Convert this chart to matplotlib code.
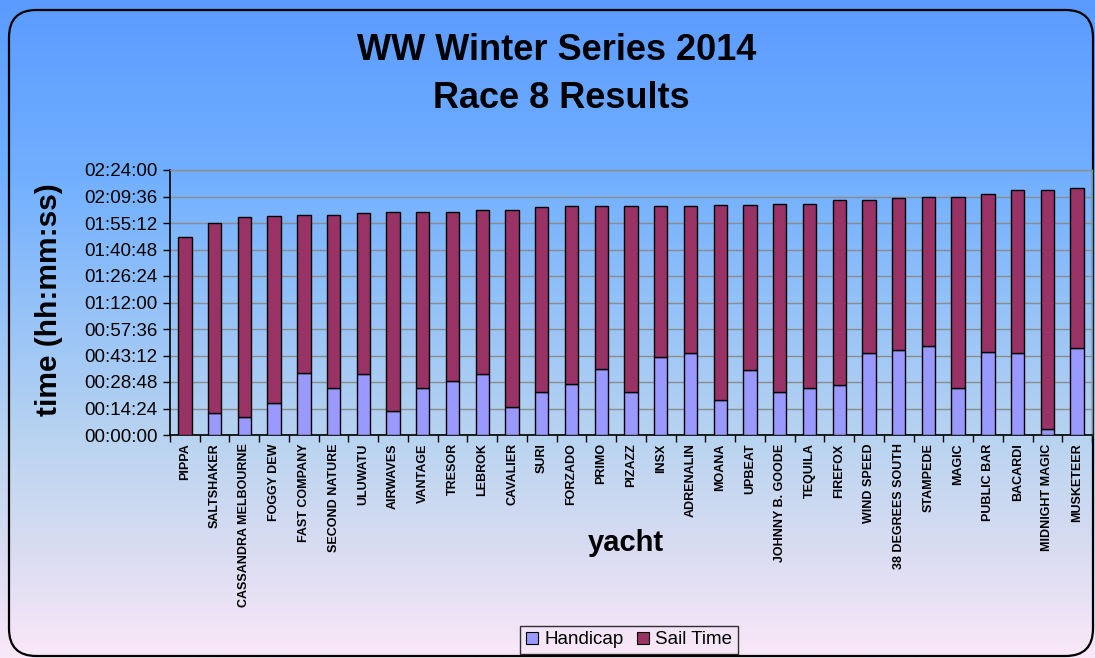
import numpy as np
import matplotlib
matplotlib.use("Agg")
import matplotlib.pyplot as plt
from matplotlib.patches import FancyBboxPatch, Patch
from matplotlib.colors import LinearSegmentedColormap
from matplotlib.ticker import FuncFormatter, MultipleLocator, FixedLocator

plt.rcParams['font.family'] = ['Liberation Sans', 'DejaVu Sans']

yachts = ["PIPPA", "SALTSHAKER", "CASSANDRA MELBOURNE", "FOGGY DEW", "FAST COMPANY",
          "SECOND NATURE", "ULUWATU", "AIRWAVES", "VANTAGE", "TRESOR", "LEBROK",
          "CAVALIER", "SURI", "FORZADO", "PRIMO", "PIZAZZ", "INSX", "ADRENALIN",
          "MOANA", "UPBEAT", "JOHNNY B. GOODE", "TEQUILA", "FIREFOX", "WIND SPEED",
          "38 DEGREES SOUTH", "STAMPEDE", "MAGIC", "PUBLIC BAR", "BACARDI",
          "MIDNIGHT MAGIC", "MUSKETEER"]

# Handicap and corrected total (elapsed) in h:mm:ss
handicap = ["0:00:00", "0:11:58", "0:09:58", "0:17:14", "0:33:44", "0:25:45", "0:33:00",
            "0:13:14", "0:25:45", "0:29:12", "0:33:00", "0:15:14", "0:23:13", "0:27:45",
            "0:35:43", "0:23:13", "0:42:26", "0:44:26", "0:19:13", "0:35:11", "0:23:13",
            "0:25:45", "0:27:01", "0:44:26", "0:46:25", "0:48:25", "0:25:45", "0:44:58",
            "0:44:26", "0:03:27", "0:47:09"]
total = ["1:47:43", "1:54:58", "1:58:14", "1:58:57", "1:59:41", "1:59:41", "2:00:24",
         "2:00:57", "2:00:57", "2:00:57", "2:02:13", "2:02:13", "2:03:40", "2:04:13",
         "2:04:13", "2:04:13", "2:04:13", "2:04:13", "2:04:56", "2:04:56", "2:05:40",
         "2:05:40", "2:07:40", "2:07:40", "2:08:56", "2:09:28", "2:09:28", "2:10:55",
         "2:12:55", "2:12:55", "2:14:11"]


def to_sec(s):
    h, m, sec = (int(p) for p in s.split(":"))
    return h * 3600 + m * 60 + sec


hcp = np.array([to_sec(s) for s in handicap], dtype=float)
sail = np.array([to_sec(s) for s in total], dtype=float) - hcp

W, H = 1095, 658
fig = plt.figure(figsize=(W / 100, H / 100), dpi=100)

# background gradient
bg = fig.add_axes([0, 0, 1, 1], zorder=-10)
bg.axis("off")
stops = [(0.0, (91/255, 155/255, 255/255)),
         (0.26, (112/255, 175/255, 255/255)),
         (0.67, (185/255, 212/255, 240/255)),
         (0.85, (220/255, 221/255, 242/255)),
         (1.0, (250/255, 232/255, 248/255))]
cmap = LinearSegmentedColormap.from_list("bg", stops)
grad = np.linspace(0, 1, 512).reshape(-1, 1)
bg.imshow(grad, aspect="auto", cmap=cmap, extent=[0, 1, 0, 1], origin="upper")
bg.set_xlim(0, 1)
bg.set_ylim(0, 1)

border = FancyBboxPatch((9 / W, 2 / H), (1093 - 9) / W, (652 - 6) / H,
                        boxstyle="round,pad=0,rounding_size=0.025",
                        transform=fig.transFigure, fill=False, edgecolor="black",
                        linewidth=1.6, zorder=5, mutation_aspect=W / H)
bg.add_patch(border)

ax = fig.add_axes([170 / W, 1 - 435 / H, (1092 - 170) / W, (435 - 170) / H])
ax.set_facecolor("none")
x = np.arange(len(yachts))
ax.bar(x, hcp, width=0.45, color="#9999FF", edgecolor="black", linewidth=1.0,
       label="Handicap", zorder=3)
ax.bar(x, sail, width=0.45, bottom=hcp, color="#993366", edgecolor="black",
       linewidth=1.0, label="Sail Time", zorder=3)

ax.set_xlim(-0.5, len(yachts) - 0.5)
ax.set_ylim(0, 8640)
ax.yaxis.set_major_locator(MultipleLocator(864))


def fmt(v, pos):
    v = int(round(v))
    return f"{v // 3600:02d}:{(v % 3600) // 60:02d}:{v % 60:02d}"


ax.yaxis.set_major_formatter(FuncFormatter(fmt))
ax.grid(axis="y", color="#8C8C8C", linewidth=1.0, zorder=0)
ax.set_axisbelow(True)

ax.set_xticks(x)
ax.set_xticklabels(yachts, rotation=90, fontsize=9, fontweight="bold")
ax.tick_params(axis="x", which="major", length=0, pad=6)
ax.xaxis.set_minor_locator(FixedLocator(np.arange(-0.5, len(yachts), 1.0)))
ax.tick_params(axis="x", which="minor", length=5, width=1, direction="out")
ax.tick_params(axis="y", labelsize=13.5, length=5, width=1, direction="out", pad=4)

for s in ["top", "right"]:
    ax.spines[s].set_color("#8C8C8C")
    ax.spines[s].set_linewidth(1.0)
for s in ["left", "bottom"]:
    ax.spines[s].set_color("black")
    ax.spines[s].set_linewidth(1.2)

fig.text(49 / W, 1 - 300 / H, "time (hh:mm:ss)", fontsize=21.5, fontweight="bold",
         rotation=90, ha="center", va="center")
fig.text(626 / W, 1 - 543 / H, "yacht", fontsize=21, fontweight="bold",
         ha="center", va="center")

fig.text(557 / W, 1 - 51 / H, "WW Winter Series 2014", fontsize=26,
         fontweight="bold", ha="center", va="center")
fig.text(561 / W, 1 - 98 / H, "Race 8 Results", fontsize=26,
         fontweight="bold", ha="center", va="center")

handles = [Patch(facecolor="#9999FF", edgecolor="black", linewidth=0.8),
           Patch(facecolor="#993366", edgecolor="black", linewidth=0.8)]
leg = fig.legend(handles, ["Handicap", "Sail Time"], loc="center",
                 bbox_to_anchor=(629 / W, 1 - 640 / H), ncol=2, fontsize=13.5,
                 frameon=True, fancybox=False, edgecolor="black",
                 handlelength=0.65, handleheight=0.65, handletextpad=0.35,
                 columnspacing=0.7, borderpad=0.3, borderaxespad=0)
leg.get_frame().set_facecolor("none")
leg.get_frame().set_linewidth(1.0)

fig.savefig("out.png", dpi=100)
